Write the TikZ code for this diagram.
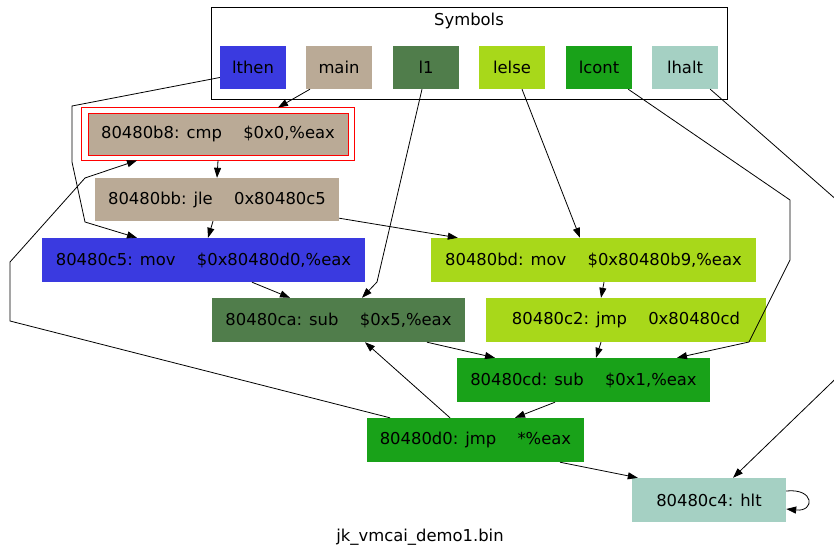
\documentclass[tikz,border=0pt]{standalone}
\usepackage{fontspec}
\setmainfont{DejaVu Sans}
\usetikzlibrary{arrows.meta}
\definecolor{cthen}{RGB}{58,58,224}
\definecolor{cmain}{RGB}{186,170,150}
\definecolor{cone}{RGB}{80,125,75}
\definecolor{celse}{RGB}{168,216,26}
\definecolor{ccont}{RGB}{25,162,25}
\definecolor{chalt}{RGB}{165,208,195}
\newcommand\tb{\hspace{1.3em}}
\tikzset{
  insn/.style={rectangle,inner sep=0pt,minimum height=44pt},
  sym/.style={insn,minimum width=66pt,minimum height=43pt},
  link/.style={line width=0.8pt,-{Triangle[length=10pt,width=7pt]}},
}
\begin{document}
\begin{tikzpicture}[x=1pt,y=-1pt,font=\fontsize{16.4}{20}\selectfont]
  \useasboundingbox (0,0) rectangle (834,546);
  % symbols cluster
  \draw[line width=0.8pt] (211,7) rectangle (727,99);
  \node (title) at (469,21) {Symbols};
  \node[sym,fill=cthen] (lthen) at (253,67.5) {lthen};
  \node[sym,fill=cmain] (main) at (339,67.5) {main};
  \node[sym,fill=cone] (lone) at (426,67.5) {l1};
  \node[sym,fill=celse] (lelse) at (512,67.5) {lelse};
  \node[sym,fill=ccont] (lcont) at (599,67.5) {lcont};
  \node[sym,fill=chalt] (lhalt) at (685,67.5) {lhalt};
  % instructions
  \node[insn,minimum width=260pt,minimum height=42pt,fill=cmain,draw=red,
        line width=0.9pt] (cmp) at (218,134)
        {80480b8: cmp\tb\$0x0,\%eax};
  \draw[red,line width=0.9pt] ([shift={(-6pt,5pt)}]cmp.north west)
        rectangle ([shift={(6pt,-5pt)}]cmp.south east);
  \node[insn,minimum width=244pt,minimum height=43pt,fill=cmain] (jle) at (217,199.5)
        {80480bb: jle\tb 0x80480c5};
  \node[insn,minimum width=323pt,fill=cthen] (movc) at (203.5,260)
        {80480c5: mov\tb\$0x80480d0,\%eax};
  \node[insn,minimum width=325pt,fill=celse] (movd) at (593.5,260)
        {80480bd: mov\tb\$0x80480b9,\%eax};
  \node[insn,minimum width=253pt,fill=cone] (subca) at (338.5,320)
        {80480ca: sub\tb\$0x5,\%eax};
  \node[insn,minimum width=280pt,fill=celse] (jmpc) at (626,320)
        {80480c2: jmp\tb 0x80480cd};
  \node[insn,minimum width=253pt,fill=ccont] (subcd) at (583.5,380)
        {80480cd: sub\tb\$0x1,\%eax};
  \node[insn,minimum width=217pt,fill=ccont] (jmpd) at (475.5,440)
        {80480d0: jmp\tb *\%eax};
  \node[insn,minimum width=154pt,fill=chalt] (hlt) at (709,500)
        {80480c4: hlt};
  \node (file) at (420,537) {jk\_vmcai\_demo1.bin};
  % edges
  \draw[link] ([xshift=-29pt]main.south) -- ([xshift=60pt,yshift=5pt]cmp.north);
  \draw[link] ([yshift=-10pt]lthen.west) -- (72,106) -- (72,162) -- (85,222)
        -- ([xshift=-66.5pt]movc.north);
  \draw[link] ([xshift=-85.5pt]jmpd.north) -- (10,321) -- (10,262) -- (85,178)
        -- ([xshift=-81pt,yshift=-5pt]cmp.south);
  \draw[link] ([yshift=-5pt]cmp.south) -- (jle.north);
  \draw[link] ([xshift=-4pt]jle.south) -- ([xshift=4.5pt]movc.north);
  \draw[link] ([yshift=3pt]jle.south east) -- ([xshift=27pt]movd.north west);
  \draw[link] ([xshift=-4pt]lone.south) -- (377,282) -- ([xshift=23.5pt]subca.north);
  \draw[link] ([xshift=48.5pt]movc.south) -- ([xshift=-48.5pt]subca.north);
  \draw[link] ([xshift=10pt]lelse.south) -- ([xshift=-13.5pt]movd.north);
  \draw[link] ([xshift=10.5pt]movd.south) -- ([xshift=-25pt]jmpc.north);
  \draw[link] ([xshift=88.5pt]subca.south) -- ([xshift=-88.5pt]subcd.north);
  \draw[link] ([xshift=-25pt]jmpc.south) -- ([xshift=12.5pt]subcd.north);
  \draw[link] ([xshift=-4pt]lcont.south east) -- (790,200) -- (790,260) -- (749,342)
        -- ([xshift=93.5pt]subcd.north);
  \draw[link] ([xshift=-8pt]lhalt.south east) -- (855,216) -- (855,360)
        -- ([xshift=24pt]hlt.north);
  \draw[link] ([xshift=-28.5pt]subcd.south) -- ([xshift=39.5pt]jmpd.north);
  \draw[link] ([xshift=-25.5pt]jmpd.north) -- ([xshift=26.5pt]subca.south);
  \draw[link] ([xshift=84.5pt]jmpd.south) -- ([xshift=6pt]hlt.north west);
  \draw[link] ([yshift=9pt]hlt.east) .. controls (815,488) and (815,512)
        .. ([yshift=-9pt]hlt.east);
\end{tikzpicture}
\end{document}
